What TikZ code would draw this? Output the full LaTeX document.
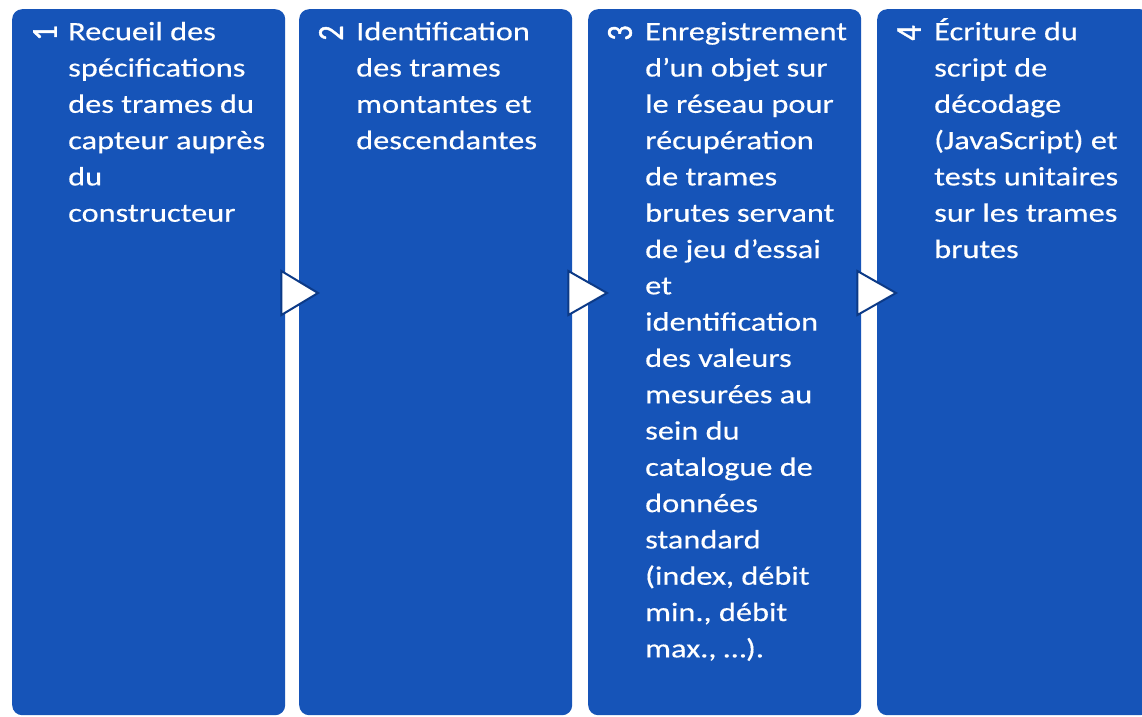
\documentclass[tikz,border=0pt]{standalone}
\usepackage{fontspec}
\setmainfont{Carlito}[FakeStretch=1.22,FakeBold=0.4]
\newfontfamily\numfont{Carlito}[FakeBold=1.2]
\definecolor{boxblue}{RGB}{22,84,184}
\definecolor{edgeblue}{RGB}{12,58,135}
\begin{document}
\begin{tikzpicture}[x=1pt,y=-1pt,
  stepbox/.style={fill=boxblue, rounded corners=10pt, minimum width=273pt, minimum height=706pt, inner sep=0pt, anchor=north west},
  txt/.style={anchor=north west, inner sep=0pt, align=left, text=white, font=\fontsize{26.5}{36.3}\selectfont},
  num/.style={text=white, font=\numfont\fontsize{30}{32}\selectfont, inner sep=0pt, xscale=1.22, rotate=90},
  chev/.style={fill=white, draw=edgeblue, line width=2pt, line join=miter}]
\path[use as bounding box] (0,0) rectangle (1142,716);
\clip (0,0) rectangle (1142,716);
\fill[white] (0,0) rectangle (1142,716);
% boxes
\node[stepbox] (b1) at (12,9) {};
\node[stepbox] (b2) at (299,9) {};
\node[stepbox] (b3) at (588,9) {};
\node[stepbox] (b4) at (877,9) {};
% numbers
\node[num] (n1) at ([shift={(33,24)}]b1.north west) {1};
\node[num] (n2) at ([shift={(32,24)}]b2.north west) {2};
\node[num] (n3) at ([shift={(32,24)}]b3.north west) {3};
\node[num] (n4) at ([shift={(32,24)}]b4.north west) {4};
% texts
\node[txt] (t1) at ([shift={(56,5.6)}]b1.north west) {\strut Recueil des\\spécifications\\des trames du\\capteur auprès\\du\\constructeur};
\node[txt] (t2) at ([shift={(57,5.6)}]b2.north west) {\strut Identification\\des trames\\montantes et\\descendantes};
\node[txt] (t3) at ([shift={(57,5.6)}]b3.north west) {\strut Enregistrement\\d’un objet sur\\le réseau pour\\récupération\\de trames\\brutes servant\\de jeu d’essai\\et\\identification\\des valeurs\\mesurées au\\sein du\\catalogue de\\données\\standard\\(index, débit\\min., débit\\max., …).};
\node[txt] (t4) at ([shift={(57,5.6)}]b4.north west) {\strut Écriture du\\script de\\décodage\\(JavaScript) et\\tests unitaires\\sur les trames\\brutes};
% chevrons
\draw[chev] ([shift={(-4,262)}]b1.north east) -- ([shift={(-4,306)}]b1.north east) -- ([shift={(19,284)}]b2.north west) -- cycle;
\draw[chev] ([shift={(-4,262)}]b2.north east) -- ([shift={(-4,306)}]b2.north east) -- ([shift={(19,284)}]b3.north west) -- cycle;
\draw[chev] ([shift={(-4,262)}]b3.north east) -- ([shift={(-4,306)}]b3.north east) -- ([shift={(19,284)}]b4.north west) -- cycle;
\end{tikzpicture}
\end{document}
